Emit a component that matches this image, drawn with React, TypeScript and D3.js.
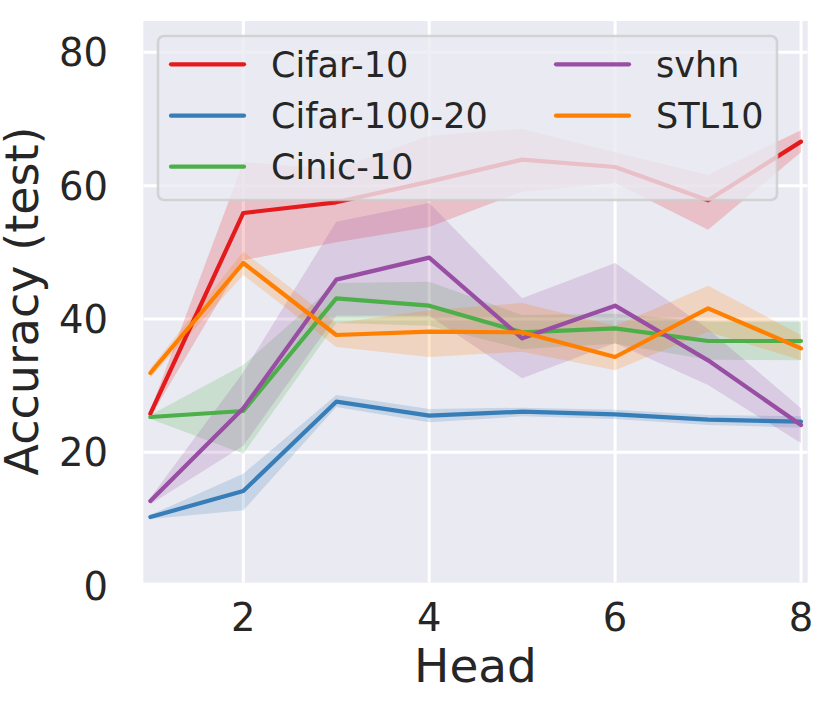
import React from "react";
import * as d3 from "d3";

// values
const heads = [1, 2, 3, 4, 5, 6, 7, 8];
const seriesNames = ["Cifar-10", "Cifar-100-20", "Cinic-10", "svhn", "STL10"];
const seriesColors = ["#e41a1c", "#377eb8", "#4daf4a", "#984ea3", "#ff7f00"];

const cifar10Mean = [25.8, 55.9, 57.5, 60.6, 63.9, 62.8, 57.8, 66.6];
const cifar10Lo = [25.3, 48.8, 51.5, 53.8, 59.1, 60.4, 53.4, 65.0];
const cifar10Hi = [26.3, 63.5, 62.5, 67.5, 68.5, 65.0, 61.6, 68.3];

const cifar100Mean = [10.3, 14.2, 27.6, 25.5, 26.1, 25.7, 24.9, 24.6];
const cifar100Lo = [10.0, 11.3, 26.8, 24.5, 25.4, 25.0, 24.1, 23.7];
const cifar100Hi = [10.6, 16.8, 28.6, 26.5, 26.7, 26.4, 25.6, 25.4];

const cinicMean = [25.3, 26.2, 43.1, 42.0, 38.0, 38.6, 36.7, 36.7];
const cinicLo = [25.0, 19.8, 39.4, 39.0, 35.5, 36.3, 33.9, 33.8];
const cinicHi = [25.6, 33.1, 45.4, 45.6, 40.6, 40.8, 39.6, 39.6];

const svhnMean = [12.7, 26.6, 45.9, 49.2, 37.1, 42.0, 33.8, 24.1];
const svhnLo = [12.2, 21.0, 40.5, 40.5, 31.1, 36.4, 30.1, 21.4];
const svhnHi = [13.2, 32.0, 54.6, 57.4, 43.1, 48.4, 38.5, 26.6];

const stlMean = [31.9, 48.4, 37.6, 38.1, 38.0, 34.3, 41.6, 35.6];
const stlLo = [31.2, 46.6, 35.8, 34.3, 35.1, 32.3, 38.1, 33.8];
const stlHi = [32.6, 50.1, 39.4, 41.3, 42.4, 39.0, 45.0, 37.6];

const xTicks = [2, 4, 6, 8];
const yTicks = [0, 20, 40, 60, 80];

const means = [cifar10Mean, cifar100Mean, cinicMean, svhnMean, stlMean];
const lows = [cifar10Lo, cifar100Lo, cinicLo, svhnLo, stlLo];
const highs = [cifar10Hi, cifar100Hi, cinicHi, svhnHi, stlHi];

const W = 829;
const H = 714;
const plot = { left: 143.3, right: 807.7, top: 21, bottom: 582.7 };
const font = "'DejaVu Sans', sans-serif";
const ink = "#262626";

export default function App() {
  const x = d3.scaleLinear().domain([0.924, 8.072]).range([plot.left, plot.right]);
  // the y limits sit a little above 0, so the 0 gridline falls just under the axes
  const y = d3.scaleLinear().domain([0, 80]).range([585.7, 52.3]);

  const line = d3
    .line<number>()
    .x((_, i) => x(heads[i]))
    .y((d) => y(d));

  const band = (lo: number[], hi: number[]) =>
    d3
      .area<number>()
      .x((_, i) => x(heads[i]))
      .y0((_, i) => y(lo[i]))
      .y1((_, i) => y(hi[i]))(heads);

  // legend layout (two columns, filled column-wise)
  const legend = { x: 158, y: 36, w: 619, h: 164 };
  const legendRows = 3;
  const legendCols = [171, 556];
  const legendRowY = [64.3, 115.7, 166.7];

  return (
    <div style={{ position: "absolute", left: 0, top: 0 }}>
      <svg width={W} height={H} style={{ display: "block", background: "#fff" }}>
        <defs>
          <clipPath id="plotClip">
            <rect x={plot.left} y={plot.top} width={plot.right - plot.left} height={plot.bottom - plot.top} />
          </clipPath>
        </defs>
        <rect
          x={plot.left}
          y={plot.top}
          width={plot.right - plot.left}
          height={plot.bottom - plot.top}
          fill="#eaeaf2"
        />
        <g clipPath="url(#plotClip)">
          {/* grid */}
          {xTicks.map((t) => (
            <line key={"gx" + t} x1={x(t)} x2={x(t)} y1={plot.top} y2={plot.bottom} stroke="#fff" strokeWidth={3} />
          ))}
          {yTicks.map((t) => (
            <line key={"gy" + t} x1={plot.left} x2={plot.right} y1={y(t)} y2={y(t)} stroke="#fff" strokeWidth={3} />
          ))}

          {/* confidence bands below all lines */}
          {seriesNames.map((name, k) => (
            <path key={"b" + name} d={band(lows[k], highs[k]) || ""} fill={seriesColors[k]} fillOpacity={0.2} stroke="none" />
          ))}
          {seriesNames.map((name, k) => (
            <path
              key={"l" + name}
              d={line(means[k]) || ""}
              fill="none"
              stroke={seriesColors[k]}
              strokeWidth={4.2}
              strokeLinecap="round"
              strokeLinejoin="round"
            />
          ))}
        </g>

        {/* tick labels */}
        {yTicks.map((t) => (
          <text
            key={"ty" + t}
            x={108}
            y={y(t)}
            dy="0.36em"
            textAnchor="end"
            fontFamily={font}
            fontSize={38.5}
            fill={ink}
          >
            {t}
          </text>
        ))}
        {xTicks.map((t) => (
          <text key={"tx" + t} x={x(t)} y={631} textAnchor="middle" fontFamily={font} fontSize={38.5} fill={ink}>
            {t}
          </text>
        ))}

        {/* axis titles */}
        <text x={(plot.left + plot.right) / 2} y={682} textAnchor="middle" fontFamily={font} fontSize={47} fill={ink}>
          Head
        </text>
        <text
          transform={`translate(38,301) rotate(-90)`}
          textAnchor="middle"
          fontFamily={font}
          fontSize={46}
          fill={ink}
        >
          Accuracy (test)
        </text>

        {/* legend */}
        <rect
          x={legend.x}
          y={legend.y}
          width={legend.w}
          height={legend.h}
          rx={6}
          fill="#eaeaf2"
          fillOpacity={0.8}
          stroke="#cccccc"
          strokeOpacity={0.8}
          strokeWidth={2.6}
        />
        {seriesNames.map((name, k) => {
          const col = Math.floor(k / legendRows);
          const row = k % legendRows;
          const lx = legendCols[col];
          const ly = legendRowY[row];
          return (
            <g key={"lg" + name}>
              <line x1={lx} x2={lx + 73} y1={ly} y2={ly} stroke={seriesColors[k]} strokeWidth={4.2} strokeLinecap="round" />
              <text x={lx + 100} y={ly} dy="0.36em" fontFamily={font} fontSize={35} fill={ink}>
                {name}
              </text>
            </g>
          );
        })}
      </svg>
    </div>
  );
}
